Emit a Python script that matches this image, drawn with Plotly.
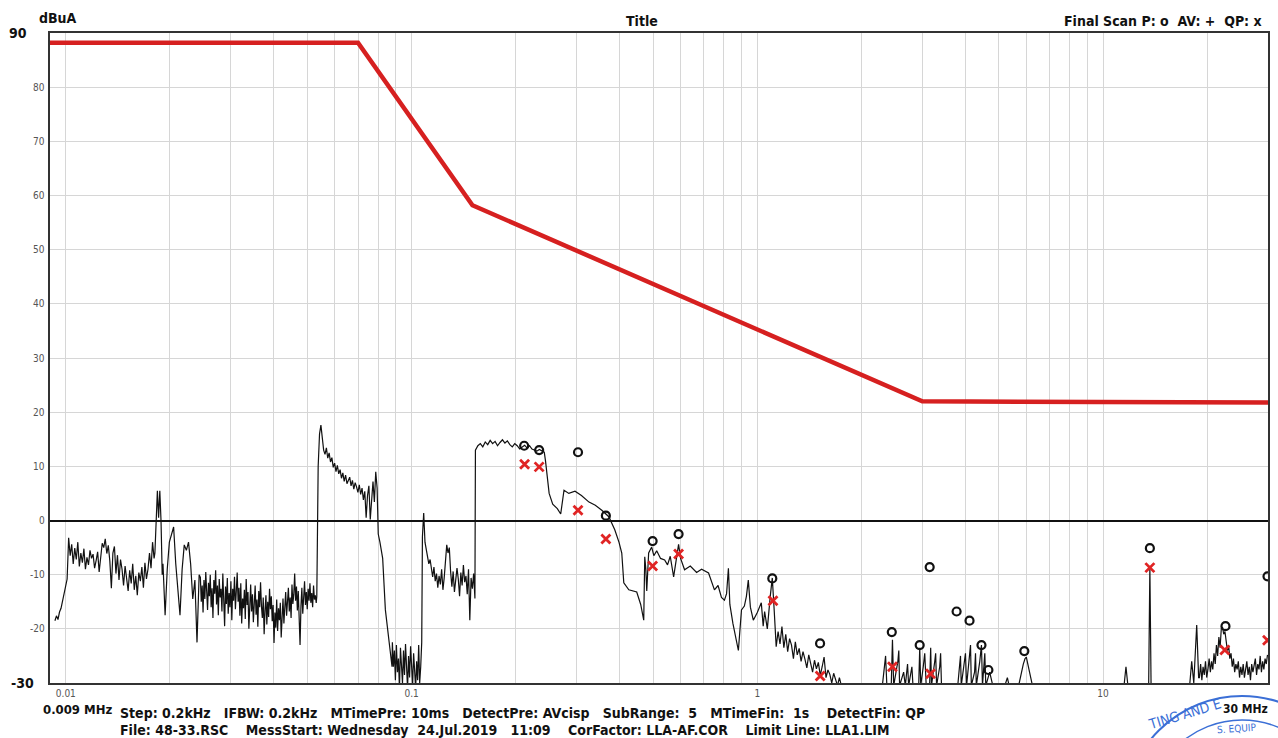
import numpy as np
import plotly.graph_objects as go

# ---------------- data ----------------
limit_f = [0.009, 0.07, 0.15, 3.0, 30.0]
limit_v = [88.2, 88.2, 58.2, 22.0, 21.8]

segA_range = (0.0093, 0.0180)
segA_vals = [-18.5, -17.6, -18.3, -16.9, -16.2, -15.0, -13.4, -12.0, -10.8,
             -3.2, -6.5, -4.4, -8.0, -5.1, -7.2, -4.0, -8.5, -6.0, -7.8, -5.2, -9.0, -6.8,
             -8.2, -5.5, -7.0, -6.2, -8.8, -7.4, -5.8, -9.5, -6.6, -4.2, -5.0, -3.4, -6.1,
             -4.6, -7.5, -12.5, -6.0, -4.8, -9.8, -6.4, -11.0, -7.2, -9.0, -12.0, -8.4,
             -10.5, -13.0, -9.2, -11.6, -8.0, -12.8, -10.2, -13.8, -9.6, -11.2, -8.6,
             -12.4, -7.8, -10.8, -9.0, -6.0, -8.8, -4.0, -7.0]

segB_f = [0.0181, 0.0184, 0.01855, 0.0187, 0.01885, 0.0190]
segB_v = [-6.0, 5.5, 0.5, 5.5, 0.0, -10.0]

segB2_range = (0.0191, 0.0243)
segB2_vals = [-8.0, -17.5, -9.0, -4.0, -2.5, -1.2, -8.0, -13.0, -17.5, -9.0, -4.5,
              -5.5, -4.0, -8.0, -14.5, -11.0, -22.5, -10.0]

segC_range = (0.0245, 0.0530)
segC_vals = [-10.5, -15, -12, -17, -11, -14.5, -9.5, -13, -16.5, -11.5, -14, -10, -16, -12.5,
             -18, -11, -13.5, -9.2, -15.5, -12, -17.5, -10.8, -14.2, -12.6, -16.8, -9.8, -13.6,
             -19.5, -12.2, -15.4, -10.6, -17.2, -13.4, -16, -11.2, -18.4, -12.6, -14.8, -10.4,
             -16.4, -13, -9.6, -15, -12.4, -17.6, -11.6, -19, -14.4, -16.2, -12.8, -18.2, -10.8,
             -15.6, -13.2, -20, -14, -11.8, -16.8, -13.6, -18.8, -15.2, -12, -17.4, -14.6, -19.6,
             -13, -16, -11.4, -15.8, -18, -14.2, -21, -16.6, -13.8, -19.2, -15, -17.8, -12.6,
             -16.4, -14, -18.6, -15.6, -22.6, -17, -19.8, -14.6, -20.4, -16.2, -18.4, -15.2,
             -21.6, -17.4, -14.4, -19, -16, -13.2, -17.6, -15, -12.4, -16.8, -14.2, -18, -11.8,
             -15.4, -13.6, -9.8, -14.8, -12.2, -16.6, -13, -20.6, -23, -15.8, -12.4, -17.2, -14,
             -11.2, -15.6, -13.2, -16.4, -12.6, -14.8, -11.6, -15.2, -13.4, -16, -12, -14.6,
             -13.8, -15.2]

segD_range = (0.0532, 0.0795)
segD_vals = [-14, 10, 16, 17.6, 15, 13, 12.2, 13.4, 11.5, 12.5, 10.8, 11.6, 9.8, 10.6, 9.0,
             10.2, 8.6, 9.4, 7.8, 8.8, 7.2, 8.4, 6.8, 7.6, 8.0, 6.4, 7.4, 5.8, 7.0, 6.2, 5.2,
             6.6, 4.8, 6.0, 3.8, 5.4, 0.5, 4.6, 6.4, 0.2, 5.0, 7.2, 3.4, 9.0, 6.0]

segD2_f = [0.0801, 0.0810, 0.0825, 0.0840, 0.0862, 0.0878]
segD2_v = [-2.5, -4.0, -7.0, -16.5, -22.6, -27.0]

segE_range = (0.0880, 0.1070)
segE_vals = [-22.5, -27, -24, -29.5, -23, -28, -25.5, -31, -23.5, -26, -30, -24, -28.5, -22.8,
             -27.5, -31, -25, -29, -23.2, -27, -30.5, -24.5, -28, -31, -26, -29.5, -23, -30,
             -27, -22.5]

segF_range = (0.1075, 0.1525)
segF_vals = [-3.0, 1.4, -4.0, -5.4, -6.6, -8.0, -7.2, -9.4, -10.4, -8.6, -11.2, -9.8, -12.4,
             -10.2, -11.8, -9.0, -12.8, -10.6, -7.8, -4.5, -6.0, -5.0, -9.4, -12.2, -9.4,
             -13.2, -11.0, -8.8, -10.8, -14.0, -9.6, -12.0, -8.2, -11.4, -10.2, -13.6, -9.0,
             -18.4, -10.6, -12.6, -9.8, -14.4]

segG_range = (0.1530, 0.2420)
segG_vals = [13.0, 13.8, 14.2, 13.6, 14.5, 14.0, 14.8, 14.2, 14.6, 13.8, 14.4, 14.9, 14.3,
             14.7, 14.0, 13.6, 14.2, 13.8, 13.2, 13.6, 13.9, 13.4, 13.8, 13.2, 13.0, 12.8,
             13.1, 12.8, 12.6]

segH_f = [0.2440, 0.2500, 0.2560, 0.2640, 0.2700, 0.2760, 0.2850, 0.2970, 0.3100, 0.3260,
          0.3400, 0.3550, 0.3720, 0.3870, 0.3980, 0.4055, 0.4110, 0.4250, 0.4480, 0.4600,
          0.4694, 0.4726, 0.4760, 0.4789, 0.4850, 0.4949, 0.5020, 0.5117, 0.5250, 0.5395,
          0.5500, 0.5600, 0.5728, 0.5800, 0.5920, 0.6000, 0.6161, 0.6400, 0.6675, 0.6900,
          0.7228, 0.7517, 0.7700, 0.7876, 0.8034, 0.8150, 0.8250, 0.8330, 0.8500, 0.8816,
          0.9000, 0.9175, 0.9300, 0.9418, 0.9550, 0.9738, 1.0000, 1.0270, 1.0400, 1.0500,
          1.0690, 1.0900, 1.1050, 1.1200]
segH_v = [11.0, 5.0, 3.0, 2.2, 1.2, 5.6, 5.0, 5.4, 4.6, 3.4,
          2.8, 1.9, 0.7, -1.7, -4.0, -6.0, -11.5, -12.8, -13.2, -15.5,
          -18.4, -6.7, -9.0, -13.0, -6.0, -4.9, -6.5, -5.6, -7.0, -7.3,
          -8.2, -6.6, -10.4, -7.8, -4.4, -7.0, -9.1, -8.4, -9.6, -9.0,
          -9.7, -12.8, -12.0, -14.2, -14.7, -13.5, -8.8, -15.5, -19.0, -24.0,
          -16.5, -15.8, -14.0, -11.0, -16.0, -18.4, -17.0, -15.2, -19.5, -16.8,
          -20.0, -14.0, -10.6, -17.0]

segH2_range = (1.134, 1.75)
segH2_vals = [-23.3, -20.5, -22.8, -19.6, -23.5, -21, -24.2, -21.8, -23, -25.5, -22.4, -24.8,
              -23.6, -26, -24.2, -25.6, -27.2, -24.8, -26.4, -28, -25.8, -27.4, -26.2, -28.6,
              -27, -25.2, -29, -27.6, -28.4, -30, -28.2, -29.4, -30.5, -29, -30.5]

segI_f = [2.30, 2.33, 2.35, 2.37, 2.44, 2.46, 2.48, 2.55, 2.566, 2.58, 2.65, 2.68, 2.72,
          2.74, 2.80, 2.82, 2.93, 2.95, 2.97, 3.02, 3.05, 3.08, 3.15, 3.173, 3.19, 3.26, 3.28,
          3.30, 3.37, 3.39, 3.41, 3.50, 3.80, 3.85, 3.87, 3.89, 3.96, 4.00, 4.03, 4.10, 4.137,
          4.16, 4.25, 4.277, 4.30, 4.40, 4.45, 4.48, 4.55, 4.58, 4.70, 4.80, 5.20, 5.288, 5.35,
          5.70, 5.80, 5.88, 5.95, 6.00, 6.06, 6.16, 6.25, 11.5, 11.65, 11.8, 13.55, 13.66,
          13.77, 17.8, 18.05, 18.3, 18.66, 18.9]
segI_v = [-30.5, -27, -25, -30.5, -30.5, -22, -30.5, -26, -24, -30.5, -28, -30.5, -26.5,
          -30.5, -27, -30.5, -30.5, -23.5, -30.5, -27, -24.5, -30.5, -30.5, -23.5, -30.5, -26,
          -24.5, -30.5, -27, -24.5, -30.5, -30.5, -30.5, -26.5, -25, -30.5, -27, -24.5, -30.5,
          -26, -23, -30.5, -28, -24.5, -30.5, -26, -23, -30.5, -24.5, -30.5, -28, -30.5, -30.5,
          -29, -30.5, -30.5, -28, -26.5, -25.5, -25.2, -26.5, -28.5, -30.5, -30.5, -27, -30.5,
          -30.5, -8.6, -30.5, -30.5, -26, -30, -19.3, -29]

segJ_range = (19.0, 29.9)
segJ_vals = [-29, -26.5, -29.5, -27, -28.5, -26, -29, -27.5, -25.5, -28, -26, -27.5, -24.5,
             -26.5, -23, -25, -21.5, -23.5, -20, -19.7, -21, -20.5, -22.5, -24, -23, -25.5,
             -24.5, -27, -25.5, -28, -26.5, -27.5, -26, -29, -27, -28.5, -26.5, -29, -27.5, -26,
             -28.5, -27, -29.5, -26.5, -28, -27, -25.5, -28.5, -26.5, -27.5, -25, -28, -26,
             -27.5, -25.5, -26.5, -24.8]

peak_f = [0.2117, 0.2339, 0.303, 0.3648, 0.498, 0.592, 1.105, 1.519, 2.449, 2.949, 3.152,
          3.771, 4.11, 4.45, 4.66, 5.92, 13.66, 22.6, 29.9]
peak_v = [13.8, 13.0, 12.6, 0.9, -3.8, -2.5, -10.7, -22.7, -20.6, -23.0, -8.6, -16.8, -18.5,
          -23.0, -27.6, -24.1, -5.1, -19.5, -10.3]
qp_f = [0.2123, 0.2339, 0.303, 0.3648, 0.498, 0.592, 1.11, 1.52, 2.46, 3.17, 13.66, 22.5, 29.9]
qp_v = [10.4, 9.9, 1.9, -3.4, -8.4, -6.2, -14.8, -28.7, -27.0, -28.3, -8.7, -23.9, -22.1]

y_ticks = [80, 70, 60, 50, 40, 30, 20, 10, 0, -10, -20]
x_decades = [0.01, 0.1, 1, 10]
x_decade_labels = ["0.01", "0.1", "1", "10"]

# ---------------- build trace ----------------
def seg(rng, vals):
    return list(np.geomspace(rng[0], rng[1], len(vals))), list(vals)

trace_f, trace_v = [], []
for part in [seg(segA_range, segA_vals), (segB_f, segB_v), seg(segB2_range, segB2_vals),
             seg(segC_range, segC_vals), seg(segD_range, segD_vals), (segD2_f, segD2_v),
             seg(segE_range, segE_vals), seg(segF_range, segF_vals), seg(segG_range, segG_vals),
             (segH_f, segH_v), seg(segH2_range, segH2_vals), (segI_f, segI_v),
             seg(segJ_range, segJ_vals)]:
    trace_f += list(part[0])
    trace_v += list(part[1])

# plot area in pixels
L, R, T, B = 50, 1270, 33, 683
W, H = 1278, 738
def px(x):
    return (x - L) / (R - L)
def py(y):
    return (B - y) / (B - T)

FONT = "Liberation Sans Narrow, DejaVu Sans Condensed, Arial Narrow, sans-serif"

fig = go.Figure()
fig.add_trace(go.Scatter(x=limit_f, y=limit_v, mode="lines",
                         line=dict(color="#d62020", width=4.5), hoverinfo="skip"))
fig.add_trace(go.Scatter(x=trace_f, y=trace_v, mode="lines",
                         line=dict(color="#111111", width=1.2), hoverinfo="skip"))
fig.add_trace(go.Scatter(x=peak_f, y=peak_v, mode="markers",
                         marker=dict(symbol="circle-open", size=8, color="#111111",
                                     line=dict(width=2.2, color="#111111"))))
fig.add_trace(go.Scatter(x=qp_f, y=qp_v, mode="markers",
                         marker=dict(symbol="x-thin", size=9, color="#e02424",
                                     line=dict(width=2.8, color="#e02424"))))

# grid tick values (1..9 per decade)
grid_vals, grid_text = [], []
for d in x_decades:
    for m in range(1, 10):
        v = round(d * m, 6)
        if v <= 30:
            grid_vals.append(v)
            grid_text.append(x_decade_labels[x_decades.index(d)] if m == 1 else "")
grid_vals.append(30)
grid_text.append("")

fig.update_xaxes(type="log", range=[np.log10(0.009), np.log10(30)],
                 tickvals=grid_vals, ticktext=grid_text, showgrid=True,
                 gridcolor="#d6d6d6", gridwidth=1, ticks="", showline=True, mirror=True,
                 linecolor="#333333", linewidth=1.5, zeroline=False,
                 tickfont=dict(family=FONT, size=10, color="#555555"))
fig.update_yaxes(range=[-30, 90], dtick=10, showgrid=True, gridcolor="#d6d6d6", gridwidth=1,
                 showticklabels=False, ticks="", showline=True, mirror=True,
                 linecolor="#333333", linewidth=1.5, zeroline=True, zerolinecolor="#111111",
                 zerolinewidth=1.6)

ann = []
def text(x, y, s, size=12, color="#111", bold=True, xanchor="left", angle=0):
    ann.append(dict(x=px(x), y=py(y), xref="paper", yref="paper",
                    text=("<b>%s</b>" % s) if bold else s,
                    showarrow=False, xanchor=xanchor, yanchor="middle", textangle=angle,
                    font=dict(family=FONT, size=size, color=color)))

for v in y_ticks:
    yy = B - (v + 30) / 120 * (B - T)
    text(47, yy, str(v), size=10, color="#555555", bold=False, xanchor="right")
text(18, 33, "90", size=14, xanchor="center")
text(22, 683, "-30", size=14, xanchor="center")
text(37, 18, "dBuA", size=14)
text(643, 21, "Title", size=14, xanchor="center")
text(1266, 21, "Final Scan P: o&nbsp;&nbsp;AV: +&nbsp;&nbsp;QP: x", size=14, xanchor="right")
text(41, 709, "0.009 MHz", size=13)
text(1272, 709, "30 MHz", size=12, xanchor="right")
text(118, 713, "Step: 0.2kHz&nbsp;&nbsp;&nbsp;IFBW: 0.2kHz&nbsp;&nbsp;&nbsp;MTimePre: 10ms&nbsp;&nbsp;&nbsp;DetectPre: AVcisp&nbsp;&nbsp;&nbsp;SubRange:&nbsp;&nbsp;5&nbsp;&nbsp;&nbsp;MTimeFin:&nbsp;&nbsp;1s&nbsp;&nbsp;&nbsp;&nbsp;DetectFin: QP", size=14)
text(118, 730, "File: 48-33.RSC&nbsp;&nbsp;&nbsp;&nbsp;MessStart: Wednesday&nbsp;&nbsp;24.Jul.2019&nbsp;&nbsp;&nbsp;11:09&nbsp;&nbsp;&nbsp;&nbsp;CorFactor: LLA-AF.COR&nbsp;&nbsp;&nbsp;&nbsp;Limit Line: LLA1.LIM", size=14)
# stamp text
text(1186, 714, "TING AND E", size=14, color="#3b6fd6", bold=False, xanchor="center", angle=-17)
text(1238, 728, "S. EQUIP", size=10, color="#3b6fd6", bold=False, xanchor="center", angle=-4)

shapes = [
    dict(type="circle", xref="paper", yref="paper", x0=px(1126), x1=px(1362), y0=py(932), y1=py(696),
         line=dict(color="#3b6fd6", width=2)),
    dict(type="circle", xref="paper", yref="paper", x0=px(1150), x1=px(1338), y0=py(908), y1=py(720),
         line=dict(color="#3b6fd6", width=1.5)),
]

fig.update_layout(width=W, height=H, margin=dict(l=L, r=W - R, t=T, b=H - B),
                  paper_bgcolor="white", plot_bgcolor="white", showlegend=False,
                  annotations=ann, shapes=shapes)
fig.write_html("out.html")
